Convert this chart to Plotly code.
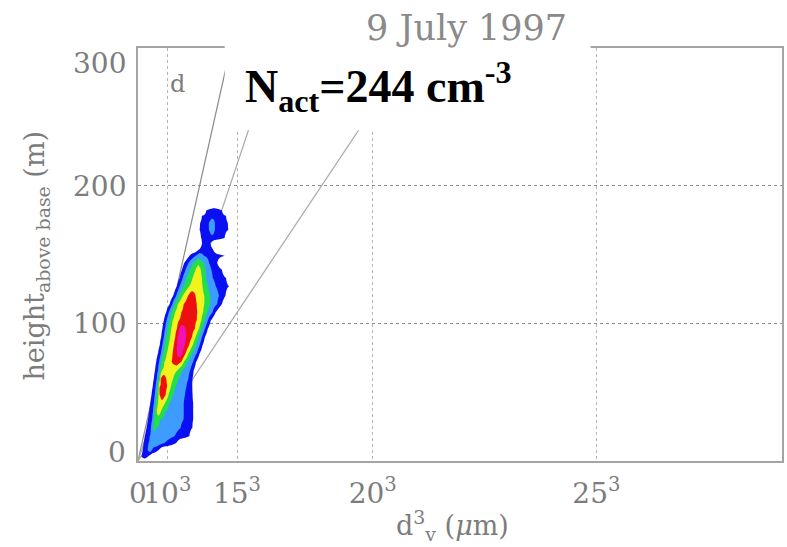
import numpy as np
import plotly.graph_objects as go

# ---- axis ticks -----------------------------------------------------------
x_tick_vals = [0, 10**3, 15**3, 20**3, 25**3]
x_tick_text = ["0", "10<sup>3</sup>", "15<sup>3</sup>", "20<sup>3</sup>", "25<sup>3</sup>"]
x_max = 28**3
y_tick_vals = [0, 100, 200, 300]
y_tick_text = ["0", "100", "200", "300"]

# ---- droplet-frequency field: extent (in d^3) of each frequency class per height
heights = [0, 3, 8, 13, 18, 24, 30, 36, 42, 48, 54, 60, 66, 72, 78, 84, 90, 96,
           102, 108, 114, 120, 127, 133, 139, 144, 149, 154, 158, 162, 168, 173,
           178, 182, 186]
class_1 = [None, (120, 330), (160, 700), (190, 1300), (230, 1750), (290, 1850),
           (340, 1880), (380, 1880), (420, 1880), (460, 1860), (500, 1850),
           (540, 1860), (580, 1900), (620, 1980), (680, 2100), (740, 2200),
           (790, 2280), (830, 2380), (880, 2480), (960, 2650), (1080, 2860),
           (1200, 2980), (1330, 3100), (1420, 3000), (1500, 2860), (1580, 2700),
           (1750, 2950), (2100, 2550), (2180, 2470), (2150, 2950), (2100, 3080),
           (2120, 3060), (2180, 3000), (2330, 2860), None]
class_2 = [None, None, (330, 480), (360, 900), (400, 1250), (440, 1450),
           (480, 1550), (510, 1560), (540, 1560), (570, 1600), (600, 1650),
           (640, 1720), (680, 1780), (720, 1880), (780, 2000), (830, 2100),
           (880, 2180), (920, 2280), (970, 2380), (1050, 2540), (1170, 2700),
           (1300, 2760), (1420, 2650), (1520, 2550), (1620, 2500), (1720, 2420),
           (1950, 2250), None, None, None, (2420, 2620), (2420, 2620), None, None, None]
class_3 = [None, None, None, None, None, (520, 620), (540, 760), (560, 920),
           (600, 1060), (630, 1180), (660, 1280), (700, 1380), (740, 1500),
           (790, 1700), (850, 1850), (900, 1980), (950, 2080), (1000, 2180),
           (1060, 2280), (1130, 2380), (1240, 2460), (1380, 2460), (1550, 2380),
           (1650, 2320), (1760, 2300), (1880, 2250), None, None, None, None, None,
           None, None, None, None]
class_4 = [None, None, None, None, None, None, None, (640, 780), (680, 920),
           (700, 1040), (710, 1120), (760, 1200), (820, 1350), (900, 1560),
           (980, 1720), (1040, 1860), (1090, 1960), (1130, 2080), (1180, 2160),
           (1260, 2220), (1360, 2260), (1520, 2260), (1750, 2200), (1860, 2180),
           (1960, 2140), None, None, None, None, None, None, None, None, None, None]
class_5 = [None, None, None, None, None, None, None, None, None, (740, 940),
           (740, 990), (780, 960), None, (1150, 1480), (1180, 1620), (1220, 1740),
           (1270, 1840), (1330, 1940), (1400, 2000), (1480, 2020), (1560, 2000),
           (1700, 1960), None, None, None, None, None, None, None, None, None, None,
           None, None, None]
class_6 = [None, None, None, None, None, None, None, None, None, None, None, None,
           None, None, (1330, 1520), (1330, 1600), (1350, 1640), (1400, 1620),
           None, None, None, None, None, None, None, None, None, None, None, None,
           None, None, None, None, None]

class_colors = ["rgba(255,255,255,0)", "#0a10f2", "#3c9cff", "#22de4c",
                "#f2f21c", "#ee1010", "#f012b4"]

# reference lines through the origin: d^3 reached at the top of the panel
line_d3_at_top = [3150, 4700, 9390]

title_text = "9 July 1997"
panel_label = "d"
nact_text = "N<sub>act</sub>=244 cm<sup>-3</sup>"

# ---- build the gridded field ----------------------------------------------
classes = [class_1, class_2, class_3, class_4, class_5, class_6]
x_grid = np.linspace(0, 3600, 361)
z = np.full((len(heights), x_grid.size), -0.5)
for r in range(len(heights)):
    spans = [(k + 1, c[r]) for k, c in enumerate(classes) if c[r] is not None]
    if not spans:
        continue
    top = spans[-1]
    xs = [spans[0][1][0] - 150]
    vs = [-0.5]
    for k, (a, b) in spans:
        xs.append(a)
        vs.append(k - 0.5)
    xs.append(0.5 * (top[1][0] + top[1][1]))
    vs.append(top[0] + 0.2)
    for k, (a, b) in reversed(spans):
        xs.append(b)
        vs.append(k - 0.5)
    xs.append(spans[0][1][1] + 150)
    vs.append(-0.5)
    z[r] = np.interp(x_grid, xs, vs, left=-0.5, right=-0.5)

n = len(class_colors) - 1
colorscale = [[i / n, c] for i, c in enumerate(class_colors)]

fig = go.Figure()
fig.add_trace(go.Contour(
    x=x_grid, y=heights, z=z,
    autocontour=False,
    contours=dict(start=0.5, end=5.5, size=1, coloring="fill", showlines=False),
    line=dict(width=0, smoothing=1.0),
    colorscale=colorscale, showscale=False, hoverinfo="skip",
))

grey_txt = "#7c7c7c"
serif = "DejaVu Serif"

shapes = []
for i, d3 in enumerate(line_d3_at_top):
    shapes.append(dict(type="line", xref="x", yref="y", x0=0, y0=0, x1=d3, y1=300,
                       layer="between",
                       line=dict(color="#8a8a8a" if i == 0 else "#a8a8a8", width=1.2)))
# white label box over the upper panel
shapes.append(dict(type="rect", xref="paper", yref="paper",
                   x0=0.1347, x1=0.7028, y0=0.801, y1=1.013,
                   fillcolor="white", line=dict(width=0), layer="above"))

annotations = []
y_shift = {0: 9, 100: 0, 200: -1, 300: -15}
for v, t in zip(y_tick_vals, y_tick_text):
    annotations.append(dict(text=t, xref="paper", yref="y", x=0, y=v,
                            xanchor="right", yanchor="middle", xshift=-10,
                            yshift=y_shift[v], showarrow=False,
                            font=dict(family=serif, size=28, color=grey_txt)))
annotations += [
    dict(text=title_text, xref="paper", yref="paper", x=0.51, y=1.048,
         xanchor="center", yanchor="middle", showarrow=False,
         font=dict(family=serif, size=35, color="#8a8a8a")),
    dict(text=panel_label, xref="x", yref="y", x=1360, y=274, showarrow=False,
         xanchor="center", yanchor="middle",
         font=dict(family=serif, size=24, color=grey_txt)),
    dict(text=nact_text, xref="paper", yref="paper", x=0.1625, y=0.906,
         xanchor="left", yanchor="middle", showarrow=False,
         font=dict(family="Liberation Serif", size=46, color="black", weight="bold")),
    dict(text="height<sub>above base</sub> (m)", xref="paper", yref="paper",
         x=-0.158, y=0.498, textangle=-90, xanchor="center", yanchor="middle",
         showarrow=False, font=dict(family=serif, size=27, color=grey_txt)),
    dict(text="d<sup>3</sup><sub>v</sub> (<i>\u03bc</i>m)", xref="paper", yref="paper",
         x=0.488, y=-0.155, xanchor="center", yanchor="middle", showarrow=False,
         font=dict(family=serif, size=27, color=grey_txt)),
]

fig.update_layout(
    width=787, height=547,
    margin=dict(l=138, r=3, t=48, b=86),
    paper_bgcolor="white", plot_bgcolor="white",
    showlegend=False,
    shapes=shapes, annotations=annotations,
    xaxis=dict(range=[0, x_max], tickvals=x_tick_vals, ticktext=x_tick_text,
               tickangle=0, ticks="", ticklabelstandoff=6,
               tickfont=dict(family=serif, size=28, color=grey_txt),
               showgrid=True, gridcolor="#b4b4b4", griddash="dot", gridwidth=1,
               zeroline=False, showline=True, mirror=True,
               linecolor="#a4a4a4", linewidth=2),
    yaxis=dict(range=[0, 300], tickvals=y_tick_vals, showticklabels=False, ticks="",
               showgrid=True, gridcolor="#8c8c8c", griddash="dot", gridwidth=1,
               zeroline=False, showline=True, mirror=True,
               linecolor="#a4a4a4", linewidth=2),
)

fig.write_html("out.html")
